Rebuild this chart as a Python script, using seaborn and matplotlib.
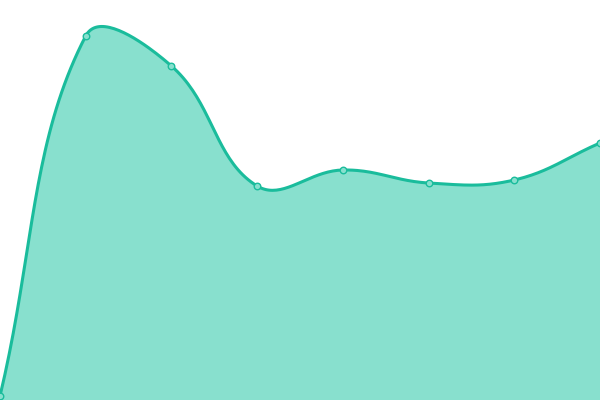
import numpy as np
import pandas as pd
import matplotlib
matplotlib.use("Agg")
import matplotlib.pyplot as plt
import seaborn as sns

# Data
x_idx = [0, 1, 2, 3, 4, 5, 6, 7]
values = [4, 364, 334, 214, 230, 217, 220, 257]

line_color = "#1abc9c"
fill_color = "#88e0ce"
tension = 0.4


def spline_curve(xs, ys, sx, sy, t=0.4, steps=40):
    # distance-weighted bezier spline, computed in screen units (sx, sy px per unit)
    P = np.column_stack([np.asarray(xs, float) * sx, np.asarray(ys, float) * sy])
    n = len(P)
    c_prev = P.copy()
    c_next = P.copy()
    for i in range(n):
        prev = P[max(i - 1, 0)]
        nxt = P[min(i + 1, n - 1)]
        d01 = np.hypot(*(P[i] - prev))
        d12 = np.hypot(*(nxt - P[i]))
        tot = d01 + d12
        s01 = d01 / tot if tot else 0
        s12 = d12 / tot if tot else 0
        c_prev[i] = P[i] - t * s01 * (nxt - prev)
        c_next[i] = P[i] + t * s12 * (nxt - prev)
    out = []
    u = np.linspace(0, 1, steps, endpoint=False)[:, None]
    for i in range(n - 1):
        p0, p1, p2, p3 = P[i], c_next[i], c_prev[i + 1], P[i + 1]
        out.append((1 - u) ** 3 * p0 + 3 * (1 - u) ** 2 * u * p1
                   + 3 * (1 - u) * u ** 2 * p2 + u ** 3 * p3)
    out.append(P[-1:])
    out = np.vstack(out)
    return out[:, 0] / sx, out[:, 1] / sy


sns.set_style("white")
fig = plt.figure(figsize=(6, 4), dpi=100)
ax = fig.add_axes([0, 0, 1, 1])

sx, sy = spline_curve(x_idx, values, 600 / 7, 1.0, tension)
smooth = pd.DataFrame({"x": sx, "y": sy})
points = pd.DataFrame({"x": x_idx, "y": values})

ax.fill_between(sx, 0, sy, color=fill_color, linewidth=0)
sns.lineplot(data=smooth, x="x", y="y", ax=ax, color=line_color, linewidth=2.2,
             sort=False, estimator=None)
sns.scatterplot(data=points, x="x", y="y", ax=ax, color=fill_color,
                edgecolor=line_color, linewidth=1, s=22, zorder=5, clip_on=False)

ax.set_xlim(0, 7)
ax.set_ylim(0, 400)
ax.axis("off")

fig.savefig("out.png", dpi=100)
